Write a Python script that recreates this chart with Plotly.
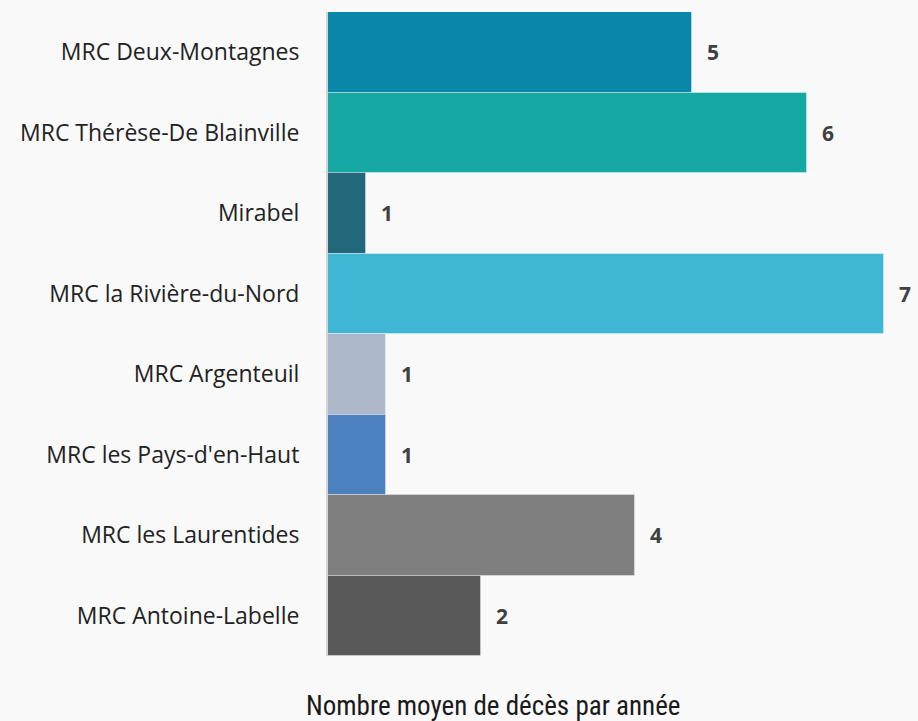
import plotly.graph_objects as go

categories = ["MRC Deux-Montagnes", "MRC Thérèse-De Blainville", "Mirabel",
              "MRC la Rivière-du-Nord", "MRC Argenteuil", "MRC les Pays-d'en-Haut",
              "MRC les Laurentides", "MRC Antoine-Labelle"]
values = [4.75, 6.25, 0.5, 7.25, 0.75, 0.75, 4.0, 2.0]
labels = [str(int(v + 0.5)) for v in values]
colors = ["#0a87a8", "#16a9a4", "#22687a", "#3fb7d4", "#adb9cb", "#4d80bf", "#7f7f7f", "#595959"]

W, H = 918, 721
L, R, T, B = 328, 0, 12, 65
PW, PH = W - L - R, H - T - B

fig = go.Figure(go.Bar(
    y=categories, x=values, orientation="h",
    marker=dict(color=colors, line=dict(color="rgba(255,255,255,0.35)", width=1)),
    hoverinfo="skip",
))

for c, v, t in zip(categories, values, labels):
    fig.add_annotation(x=v, y=c, text=t, showarrow=False, xanchor="left",
                       xshift=13, font=dict(family="Open Sans, Segoe UI, sans-serif",
                                            size=21, color="#404040", weight="bold"))

fig.add_annotation(x=(493 - L) / PW, y=-(706 - (H - B)) / PH, xref="paper", yref="paper",
                   xanchor="center", yanchor="middle", showarrow=False,
                   text="Nombre moyen de décès par année",
                   font=dict(family="Liberation Sans Narrow, Roboto Condensed, Lato, sans-serif",
                             size=27, color="#1a1a1a"))

fig.update_layout(
    width=W, height=H,
    margin=dict(l=L, r=R, t=T, b=B),
    paper_bgcolor="#f9f9f9", plot_bgcolor="#f9f9f9",
    bargap=0, showlegend=False,
    xaxis=dict(range=[0, 590 / 76.7], visible=False, fixedrange=True),
    yaxis=dict(autorange="reversed", showgrid=False, ticks="", ticklabelstandoff=22,
               showline=True, linecolor="#d3d3d3", linewidth=2, fixedrange=True,
               tickfont=dict(family="Open Sans, Segoe UI, sans-serif", size=23, color="#222222")),
)

fig.write_html("out.html", config={"displayModeBar": False},
               post_script="document.body.style.margin='0';document.body.style.background='#f9f9f9';")
